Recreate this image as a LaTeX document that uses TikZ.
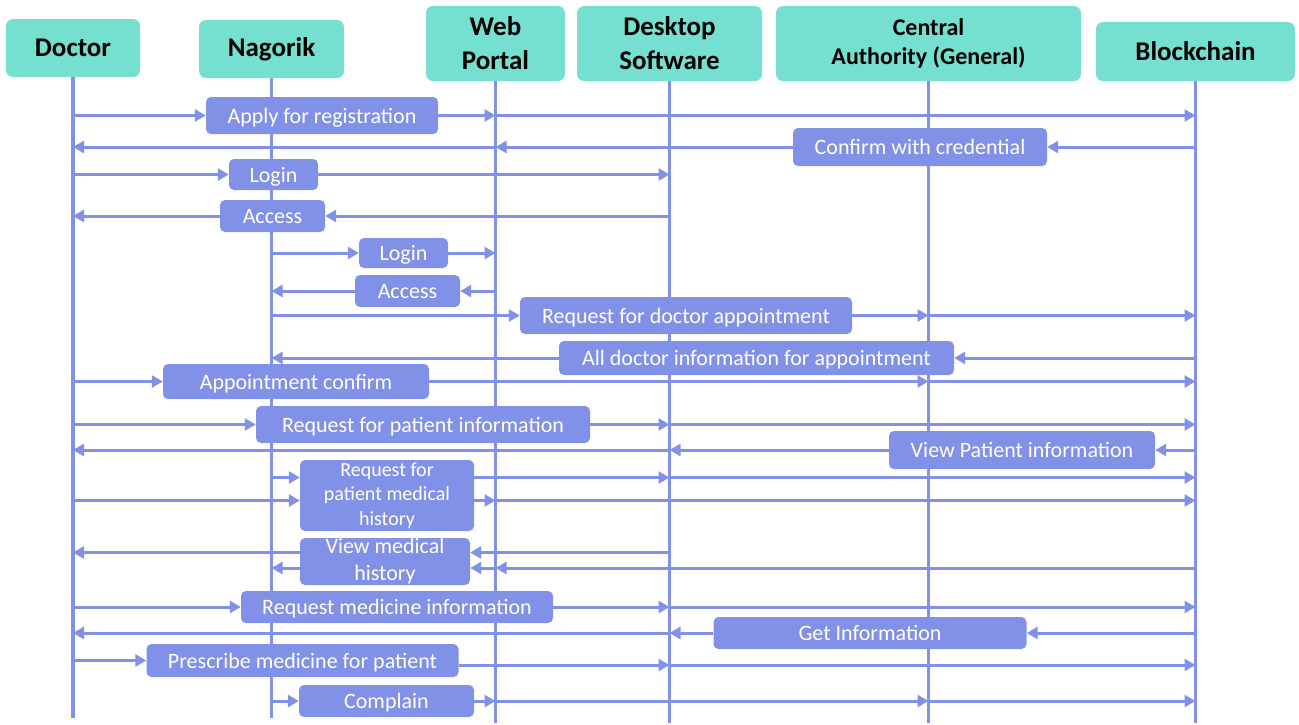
\documentclass[tikz,border=0pt]{standalone}
\usepackage{fontspec}
\setmainfont{Carlito}
\usetikzlibrary{arrows.meta}
\definecolor{headteal}{RGB}{118,224,208}
\definecolor{lav}{RGB}{130,145,232}

\begin{document}
\begin{tikzpicture}[x=1pt,y=-1pt,
        head/.style={fill=headteal, rounded corners=7pt, inner sep=0pt, align=center, font=\bfseries\fontsize{27}{34}\selectfont},
        box/.style={fill=lav, rounded corners=5pt, inner sep=0pt, align=center, text=white, font=\fontsize{22}{27}\selectfont},
        msg/.style={box, text height=17pt, text depth=2pt},
        life/.style={draw=lav, line width=3.5pt},
        arr/.style={draw=lav, line width=3pt, -{Triangle[length=11pt,width=12pt]}}]
                \useasboundingbox (0,0) rectangle (1299,724);
                \node[head, minimum width=134pt, minimum height=58pt] (doctor) at (73,48) {Doctor};
                \node[head, minimum width=145pt, minimum height=58pt] (nagorik) at (271.5,49) {Nagorik};
                \node[head, minimum width=139pt, minimum height=75pt] (web) at (495.5,43.5) {Web\\Portal};
                \node[head, minimum width=185pt, minimum height=75pt] (desk) at (669.5,43.5) {Desktop\\Software};
                \node[head, minimum width=305pt, minimum height=75pt, font=\bfseries\fontsize{24}{29}\selectfont] (central) at (928.5,43.5) {Central\\Authority (General)};
                \node[head, minimum width=199pt, minimum height=59pt] (chain) at (1195.5,51.5) {Blockchain};
                \draw[life] (doctor.south) -- (doctor.south |- 0,718);
                \draw[life] (nagorik.south) -- (nagorik.south |- 0,718);
                \draw[life] (web.south) -- (web.south |- 0,723);
                \draw[life] (desk.south) -- (desk.south |- 0,723);
                \draw[life] (central.south) -- (central.south |- 0,723);
                \draw[life] (chain.south) -- (chain.south |- 0,723);

                \node[msg, minimum width=232pt, minimum height=37pt] (apply) at (322,115.5) {Apply for registration};
                \node[msg, minimum width=254pt, minimum height=38pt] (confirm) at (920,147) {Confirm with credential};
                \node[msg, minimum width=89pt, minimum height=31pt] (login1) at (273.5,174.5) {Login};
                \node[msg, minimum width=105pt, minimum height=32pt] (access1) at (272.5,216) {Access};
                \node[msg, minimum width=89pt, minimum height=30pt] (login2) at (403.5,253) {Login};
                \node[msg, minimum width=105pt, minimum height=32pt] (access2) at (407.5,291) {Access};
                \node[msg, minimum width=332pt, minimum height=37pt] (reqdoc) at (686,315.5) {Request for doctor appointment};
                \node[msg, minimum width=395pt, minimum height=34pt] (alldoc) at (756.5,358) {All doctor information for appointment};
                \node[msg, minimum width=266pt, minimum height=35pt] (apptconf) at (296,381.5) {Appointment confirm};
                \node[msg, minimum width=334pt, minimum height=37pt] (reqpat) at (423,424.5) {Request for patient information};
                \node[msg, minimum width=266pt, minimum height=38pt] (viewpat) at (1022,450) {View Patient information};
                \node[box, minimum width=174pt, minimum height=71pt, font=\fontsize{20}{24.5}\selectfont] (reqhist) at (387,495.5) {Request for\\patient medical\\history};
                \node[box, minimum width=170pt, minimum height=47pt] (viewhist) at (385,561.5) {View medical\\history};
                \node[msg, minimum width=312pt, minimum height=32pt] (reqmed) at (397,607) {Request medicine information};
                \node[msg, minimum width=313pt, minimum height=32pt] (getinfo) at (870,633) {Get Information};
                \node[msg, minimum width=312pt, minimum height=33pt] (prescribe) at (302.5,660.5) {Prescribe medicine for patient};
                \node[msg, minimum width=175pt, minimum height=32pt] (complain) at (386.5,701) {Complain};

                \draw[arr] (doctor |- apply.west) -- (apply.west);
                \draw[arr] (apply.east) -- (web |- apply.east);
                \draw[arr] (web |- apply.east) -- (chain |- apply.east);

                \draw[arr] (chain |- confirm.east) -- (confirm.east);
                \draw[arr] (confirm.west) -- (web |- confirm.west);
                \draw[arr] (web |- confirm.west) -- (doctor |- confirm.west);

                \draw[arr] (doctor |- login1.west) -- (login1.west);
                \draw[arr] (login1.east) -- (desk |- login1.east);
                \draw[arr] (desk |- access1.east) -- (access1.east);
                \draw[arr] (access1.west) -- (doctor |- access1.west);

                \draw[arr] (nagorik |- login2.west) -- (login2.west);
                \draw[arr] (login2.east) -- (web |- login2.east);
                \draw[arr] (web |- access2.east) -- (access2.east);
                \draw[arr] (access2.west) -- (nagorik |- access2.west);

                \draw[arr] (nagorik |- reqdoc.west) -- (reqdoc.west);
                \draw[arr] (reqdoc.east) -- (central |- reqdoc.east);
                \draw[arr] (central |- reqdoc.east) -- (chain |- reqdoc.east);
                \draw[arr] (chain |- alldoc.east) -- (alldoc.east);
                \draw[arr] (alldoc.west) -- (nagorik |- alldoc.west);

                \draw[arr] (doctor |- apptconf.west) -- (apptconf.west);
                \draw[arr] (apptconf.east) -- (central |- apptconf.east);
                \draw[arr] (central |- apptconf.east) -- (chain |- apptconf.east);

                \draw[arr] (doctor |- reqpat.west) -- (reqpat.west);
                \draw[arr] (reqpat.east) -- (desk |- reqpat.east);
                \draw[arr] (desk |- reqpat.east) -- (chain |- reqpat.east);
                \draw[arr] (chain |- viewpat.east) -- (viewpat.east);
                \draw[arr] (viewpat.west) -- (desk |- viewpat.west);
                \draw[arr] (desk |- viewpat.west) -- (doctor |- viewpat.west);

                \coordinate (rh1) at ([yshift=18pt]reqhist.west);
                \coordinate (rh2) at ([yshift=-5pt]reqhist.west);
                \draw[arr] (nagorik |- rh1) -- (rh1);
                \draw[arr] (doctor |- rh2) -- (rh2);
                \draw[arr] (reqhist.east |- rh1) -- (desk |- rh1);
                \draw[arr] (desk |- rh1) -- (chain |- rh1);
                \draw[arr] (reqhist.east |- rh2) -- (web |- rh2);
                \draw[arr] (web |- rh2) -- (chain |- rh2);

                \coordinate (vh1) at ([yshift=9pt]viewhist.east);
                \coordinate (vh2) at ([yshift=-6.5pt]viewhist.east);
                \draw[arr] (desk |- vh1) -- (vh1);
                \draw[arr] (chain |- vh2) -- (web |- vh2);
                \draw[arr] (web |- vh2) -- (vh2);
                \draw[arr] (viewhist.west |- vh1) -- (doctor |- vh1);
                \draw[arr] (viewhist.west |- vh2) -- (nagorik |- vh2);

                \draw[arr] (doctor |- reqmed.west) -- (reqmed.west);
                \draw[arr] (reqmed.east) -- (desk |- reqmed.east);
                \draw[arr] (desk |- reqmed.east) -- (chain |- reqmed.east);
                \draw[arr] (chain |- getinfo.east) -- (getinfo.east);
                \draw[arr] (getinfo.west) -- (desk |- getinfo.west);
                \draw[arr] (desk |- getinfo.west) -- (doctor |- getinfo.west);

                \coordinate (pm) at ([yshift=-4.5pt]prescribe.east);
                \draw[arr] (doctor |- prescribe.west) -- (prescribe.west);
                \draw[arr] (pm) -- (desk |- pm);
                \draw[arr] (desk |- pm) -- (chain |- pm);

                \draw[arr] (nagorik |- complain.west) -- (complain.west);
                \draw[arr] (complain.east) -- (web |- complain.east);
                \draw[arr] (web |- complain.east) -- (central |- complain.east);
                \draw[arr] (central |- complain.east) -- (chain |- complain.east);
            \end{tikzpicture}
\end{document}
